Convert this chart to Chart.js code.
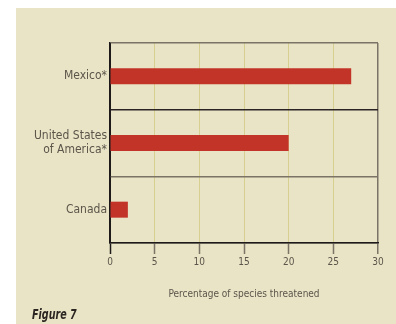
<!DOCTYPE html>
<html>
<head>
<meta charset="utf-8">
<script src="https://cdn.jsdelivr.net/npm/chart.js@4/dist/chart.umd.min.js"></script>
<style>
  html, body { margin: 0; padding: 0; background: #ffffff; }
  #wrap { width: 396px; height: 324px; position: relative; }
</style>
</head>
<body>
<div id="wrap"><canvas id="fig7"></canvas></div>
<script>
var countries = ['Mexico*', ['United States', 'of America*'], 'Canada'];
var threatened = [27, 20, 2];
var xTicks = [0, 5, 10, 15, 20, 25, 30];

var condensed = "'Liberation Sans Narrow', 'DejaVu Sans Condensed', 'Roboto', sans-serif";
var textGrey = '#5b554a';

// beige panel + caption
var panelPlugin = {
  id: 'panel',
  beforeDraw: function (chart) {
    var c = chart.ctx;
    c.save();
    c.fillStyle = '#ffffff';
    c.fillRect(0, 0, chart.width, chart.height);
    c.fillStyle = '#e9e4c6';
    c.fillRect(16, 8, chart.width - 16, chart.height - 8);
    c.restore();
  },
  afterDraw: function (chart) {
    var c = chart.ctx;
    c.save();
    c.fillStyle = '#2b2621';
    c.font = "italic bold 14px " + condensed;
    c.textBaseline = 'alphabetic';
    c.translate(32, 319);
    c.scale(0.76, 1);
    c.fillText('Figure 7', 0, 0);
    c.restore();
  }
};

var ctx = document.getElementById('fig7').getContext('2d');
var chart = new Chart(ctx, {
  type: 'bar',
  data: {
    labels: countries,
    datasets: [{
      data: threatened,
      backgroundColor: '#c33428',
      borderWidth: 0,
      barPercentage: 1,
      categoryPercentage: 0.24
    }]
  },
  options: {
    indexAxis: 'y',
    responsive: true,
    maintainAspectRatio: false,
    animation: false,
    events: [],
    layout: { padding: { top: 43, right: 18, bottom: 0, left: 0 } },
    plugins: {
      legend: { display: false },
      tooltip: { enabled: false }
    },
    scales: {
      x: {
        min: 0,
        max: 30,
        afterBuildTicks: function (s) {
          s.ticks = xTicks.map(function (v) { return { value: v }; });
        },
        afterFit: function (s) { s.height = 81; },
        grid: {
          color: function (c) {
            if (c.tick && c.tick.value === 0) return '#1f1a1a';
            if (c.tick && c.tick.value === 30) return '#7a7366';
            return '#d6cf8f';
          },
          lineWidth: function (c) {
            return (c.tick && c.tick.value === 30) ? 1.5 : 1;
          },
          drawTicks: true,
          tickLength: 11,
          tickColor: function (c) {
            return (c.tick && c.tick.value === 0) ? '#1f1a1a' : '#7a7366';
          },
          tickWidth: 1.5
        },
        border: { display: true, color: '#1f1a1a', width: 1.5 },
        ticks: {
          padding: 2,
          color: textGrey,
          font: { family: condensed, size: 10 }
        },
        title: {
          display: true,
          text: 'Percentage of species threatened',
          color: textGrey,
          font: { family: condensed, size: 10 },
          padding: { top: 0, bottom: 24 }
        }
      },
      y: {
        afterFit: function (s) { s.width = 110; },
        grid: {
          offset: true,
          drawTicks: false,
          color: function (c) {
            if (c.index === 1) return '#2a2424';
            return '#7a7366';
          },
          lineWidth: 1.5
        },
        border: { display: true, color: '#1f1a1a', width: 1.5 },
        ticks: {
          padding: 3,
          color: textGrey,
          font: { family: condensed, size: 12, lineHeight: 1.15 }
        }
      }
    }
  },
  plugins: [panelPlugin]
});
</script>
</body>
</html>
